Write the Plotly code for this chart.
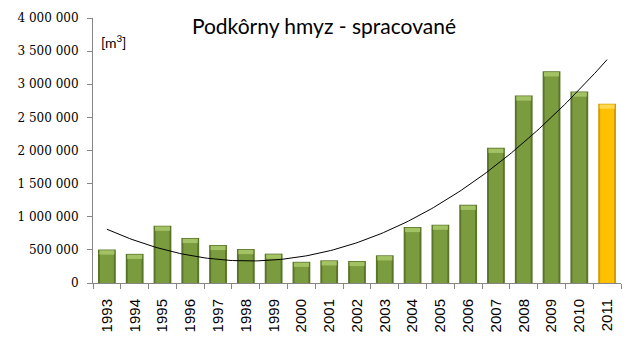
import numpy as np
import plotly.graph_objects as go

years = list(range(1993, 2012))
values = [505000, 440000, 865000, 680000, 574000, 513000, 443000, 320000, 342000, 332000,
          418000, 845000, 880000, 1180000, 2040000, 2830000, 3195000, 2890000, 2707000]
edge_colors = ["#5A7429"] * 18 + ["#D49C00"]
body_colors = ["#7B9B3F"] * 18 + ["#FFC000"]
cap_colors = ["#A3C263"] * 18 + ["#FFD84D"]
ytick_vals = [0, 500000, 1000000, 1500000, 2000000, 2500000, 3000000, 3500000, 4000000]
ytick_text = ["0", "500 000", "1 000 000", "1 500 000", "2 000 000", "2 500 000",
              "3 000 000", "3 500 000", "4 000 000"]

# Polynomial (2nd order) trend line, as Excel computes it
idx = np.arange(1, len(years) + 1)
coef = np.polyfit(idx, values, 2)
xs = np.linspace(1, len(years), 200)
trend_x = xs + years[0] - 1
trend_y = np.polyval(coef, xs)

cap_h = 65000
fig = go.Figure()
fig.add_trace(go.Bar(
    x=years, y=values, width=0.64,
    marker=dict(color=edge_colors, line=dict(width=0)),
    hoverinfo="x+y",
))
fig.add_trace(go.Bar(
    x=years, y=[v - 15000 for v in values], width=0.50,
    marker=dict(color=body_colors, line=dict(width=0)),
    hoverinfo="skip",
))
fig.add_trace(go.Bar(
    x=years, y=[cap_h] * len(values), base=[v - cap_h - 12000 for v in values],
    width=0.54,
    marker=dict(color=cap_colors, line=dict(width=0)),
    hoverinfo="skip",
))
fig.add_trace(go.Scatter(
    x=trend_x, y=trend_y, mode="lines",
    line=dict(color="black", width=1), hoverinfo="skip",
))

fig.update_layout(
    width=622, height=353,
    margin=dict(l=85, r=9, t=10, b=78, autoexpand=False),
    paper_bgcolor="white", plot_bgcolor="white",
    showlegend=False, barmode="overlay",
    title=dict(text="Podkôrny hmyz - spracované", x=0.508, xanchor="center",
               y=0.946, yanchor="middle",
               font=dict(family="Lato", size=21, color="black")),
    annotations=[dict(text="[m<sup>3</sup>]", xref="paper", yref="paper",
                      x=0.012, y=0.955, xanchor="left", yanchor="top",
                      showarrow=False,
                      font=dict(family="Lato", size=14, color="black"))],
)
fig.update_xaxes(
    range=[1992.5, 2011.5], automargin=False,
    tickvals=years, ticktext=[str(y) for y in years], tickangle=-90,
    ticks="", showgrid=False, showline=True, linecolor="#868686", linewidth=1,
    tickfont=dict(family="Liberation Sans", size=15, color="black"),
    ticklabelstandoff=9,
    minor=dict(tickvals=[y - 0.5 for y in years] + [2011.5], ticks="outside",
               ticklen=5, tickcolor="#868686", showgrid=False),
    zeroline=False,
)
fig.update_yaxes(
    range=[0, 4000000], tickvals=ytick_vals, ticktext=ytick_text, automargin=False,
    ticks="outside", ticklen=5, tickcolor="#868686",
    showgrid=False, showline=True, linecolor="#868686", linewidth=1,
    tickfont=dict(family="DejaVu Serif", size=12, color="black"),
    ticklabelstandoff=6,
    zeroline=False,
)

fig.write_html("out.html")
